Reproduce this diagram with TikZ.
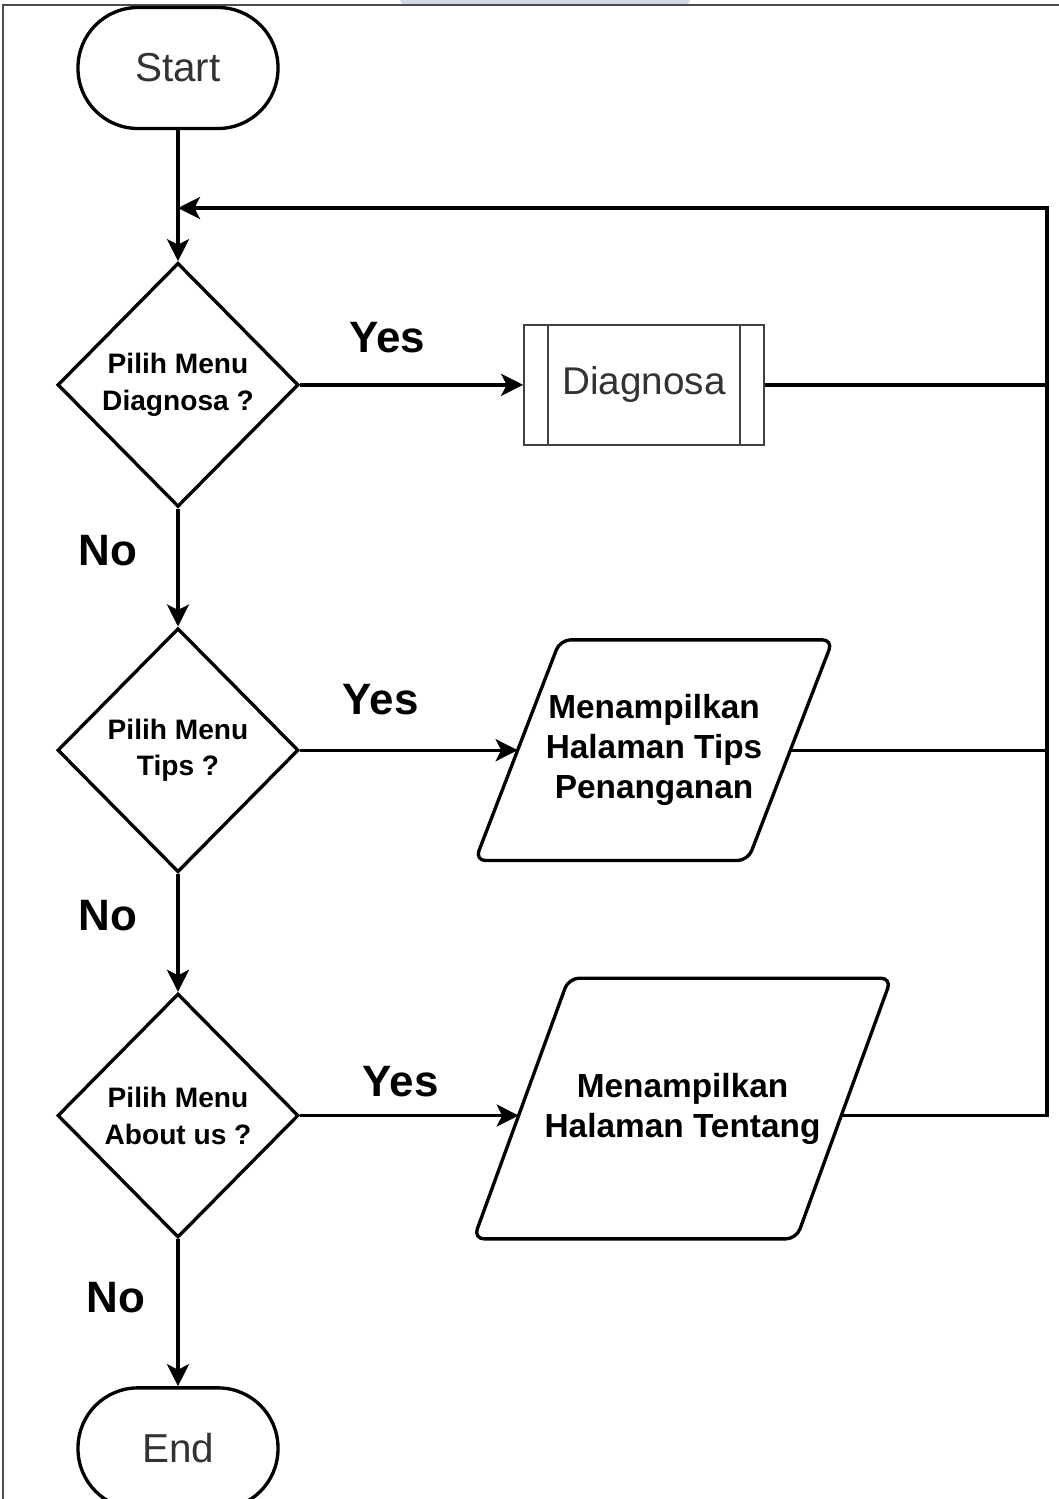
\documentclass[tikz,border=0pt]{standalone}
\usepackage{fontspec}
\setmainfont{Liberation Sans}
\usetikzlibrary{shapes.geometric, arrows.meta, positioning}
\definecolor{wmark}{HTML}{CFD9E3}
\begin{document}
\begin{tikzpicture}[
    every node/.style={font=\fontsize{16}{21}\selectfont\bfseries},
    term/.style={draw, line width=1.9pt, rounded corners=1.2cm, minimum width=4cm, minimum height=2.42cm, font=\fontsize{23}{27}\selectfont, text=black!80},
    dec/.style={draw, diamond, aspect=1, inner sep=0pt, line width=1.9pt, minimum width=4.82cm, minimum height=4.88cm, align=center},
    subproc/.style={draw=black!75, line width=1pt, minimum width=4.8cm, minimum height=2.4cm, font=\fontsize{22}{26}\selectfont, text=black!80,
        path picture={\draw[black!75, line width=1pt]
            ([xshift=0.48cm]path picture bounding box.north west) -- ([xshift=0.48cm]path picture bounding box.south west)
            ([xshift=-0.48cm]path picture bounding box.north east) -- ([xshift=-0.48cm]path picture bounding box.south east);}},
    % slanted box, #1 = half of the slant
    io/.style={inner sep=0pt, align=center, font=\fontsize{19}{22.8}\selectfont\bfseries,
        append after command={\pgfextra{\draw[line width=1.9pt, rounded corners=6pt]
            ([xshift=-#1]\tikzlastnode.south west) -- ([xshift=-#1]\tikzlastnode.south east) --
            ([xshift=#1]\tikzlastnode.north east) -- ([xshift=#1]\tikzlastnode.north west) -- cycle;}}},
    lbl/.style={font=\fontsize{25}{30}\selectfont\bfseries},
    ln/.style={line width=1.9pt},
    ar/.style={-{Stealth[length=0.44cm, width=0.44cm, inset=0.11cm]}, line width=1.9pt}
]
\useasboundingbox (0,0) rectangle (21.18,-29.98);
% page frame
\fill[wmark, rounded corners=0.1cm] (8.0,0.3) rectangle (13.8,-0.1);
\draw[black!70, line width=0.6pt] (0.06,-29.98) -- (0.06,-0.1) -- (21.18,-0.1);
% main column
\node[term] (start) at (3.56,-1.36) {Start};
\node[dec, below=2.62cm of start] (d1) {Pilih Menu\\Diagnosa ?};
\node[dec, below=2.36cm of d1] (d2) {Pilih Menu\\Tips ?};
\node[dec, below=2.36cm of d2] (d3) {Pilih Menu\\About us ?};
\node[term, below=2.94cm of d3] (end) {End};
% right column
\node[subproc, right=4.46cm of d1] (diag) {Diagnosa};
\node[io=0.85cm, right=4.35cm of d2, minimum width=5.44cm, minimum height=4.4cm] (tips) {Menampilkan\\Halaman Tips\\Penanganan};
\node[io=0.95cm, right=4.42cm of d3, yshift=0.14cm, minimum width=6.44cm, minimum height=5.2cm] (tent) {Menampilkan\\Halaman Tentang};
\coordinate (tentin) at ([xshift=-0.05cm, yshift=-0.14cm]tent.west);
\coordinate (tentout) at ([xshift=-0.05cm, yshift=-0.14cm]tent.east);
\coordinate (rt) at (20.94,-4.16);
% down arrows
\draw[ar] (start) -- (d1);
\draw[ar] (d1) -- node[lbl, pos=0.36, xshift=-1.4cm]{No} (d2);
\draw[ar] (d2) -- node[lbl, pos=0.35, xshift=-1.4cm]{No} (d3);
\draw[ar] (d3) -- node[lbl, pos=0.4, xshift=-1.24cm]{No} (end);
% yes arrows
\draw[ar] (d1) -- node[lbl, pos=0.39, yshift=0.94cm]{Yes} (diag);
\draw[ar] (d2) -- node[lbl, pos=0.37, yshift=1.02cm]{Yes} (tips);
\draw[ar] (d3) -- node[lbl, pos=0.46, yshift=0.68cm]{Yes} (tentin);
% back to the first question
\draw[ln] (diag.east) -- (diag.east -| rt);
\draw[ln] (tips.east) -- (tips.east -| rt);
\draw[ar] (tentout) -- (tentout -| rt) -- (rt) -- (start.south |- rt);
\end{tikzpicture}
\end{document}
